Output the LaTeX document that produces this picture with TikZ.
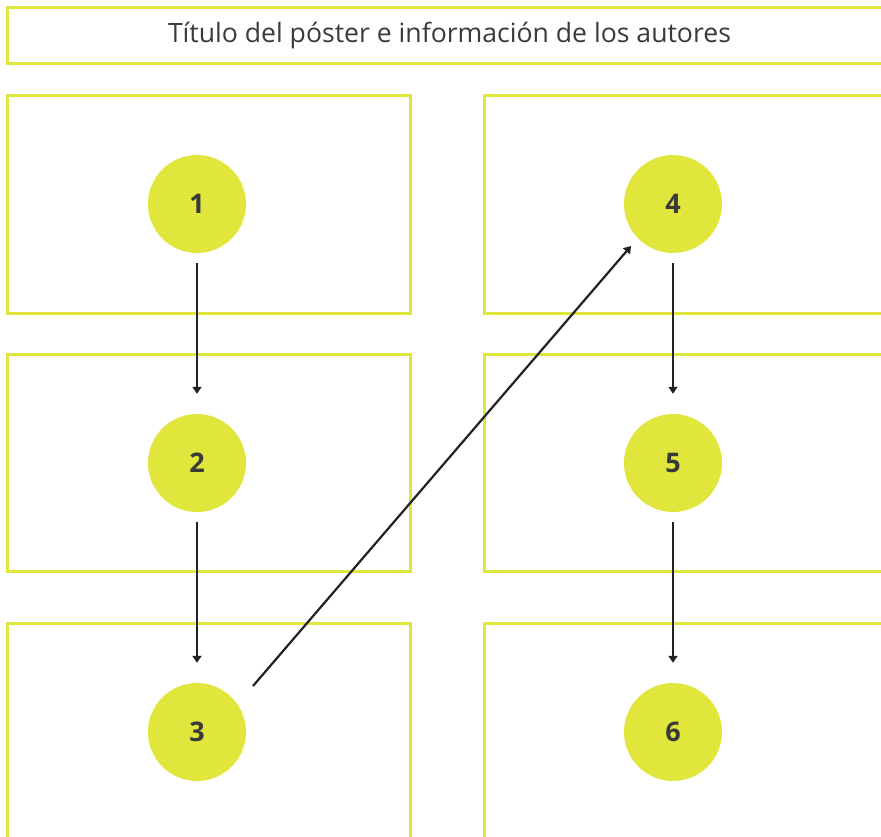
\documentclass[tikz,border=0pt]{standalone}
\usepackage{fontspec}
\setmainfont{Open Sans}
\usetikzlibrary{arrows.meta}
\definecolor{ylw}{HTML}{E1E63C}
\definecolor{txt}{HTML}{3A3A3A}
\definecolor{arr}{HTML}{222222}
\begin{document}
\begin{tikzpicture}[x=1pt,y=-1pt,
  panel/.style={draw=ylw,line width=3pt},
  dot/.style={circle,fill=ylw,minimum size=98pt,inner sep=0pt,text=txt,font=\fontsize{27}{30}\selectfont\bfseries},
  flow/.style={draw=arr,line width=2.2pt,-{Triangle[length=7pt,width=9pt]}}]
\useasboundingbox (0,0) rectangle (881,837);
\draw[panel] (7,8) rectangle (895,64);
\node[text=txt,font=\fontsize{26.6}{30}\selectfont] (title) at (449.5,36) {Título del póster e información de los autores};
\draw[panel] (7,96) rectangle (410,313);
\draw[panel] (484,96) rectangle (895,313);
\draw[panel] (7,354) rectangle (410,571);
\draw[panel] (484,354) rectangle (895,571);
\draw[panel] (7,623) rectangle (410,850);
\draw[panel] (484,623) rectangle (895,850);
\node[dot] (n1) at (197,204) {1};
\node[dot] (n2) at (197,463) {2};
\node[dot] (n3) at (197,732) {3};
\node[dot] (n4) at (673,204) {4};
\node[dot] (n5) at (673,463) {5};
\node[dot] (n6) at (673,732) {6};
\draw[flow] ([yshift=-10pt]n1.south) -- ([yshift=20pt]n2.north);
\draw[flow] ([yshift=-10pt]n2.south) -- ([yshift=20pt]n3.north);
\draw[flow] ([yshift=-10pt]n4.south) -- ([yshift=20pt]n5.north);
\draw[flow] ([yshift=-10pt]n5.south) -- ([yshift=20pt]n6.north);
\coordinate (s3) at (253,686);
\coordinate (e4) at (631,246);
\draw[flow] (s3) -- (e4);
\end{tikzpicture}
\end{document}
